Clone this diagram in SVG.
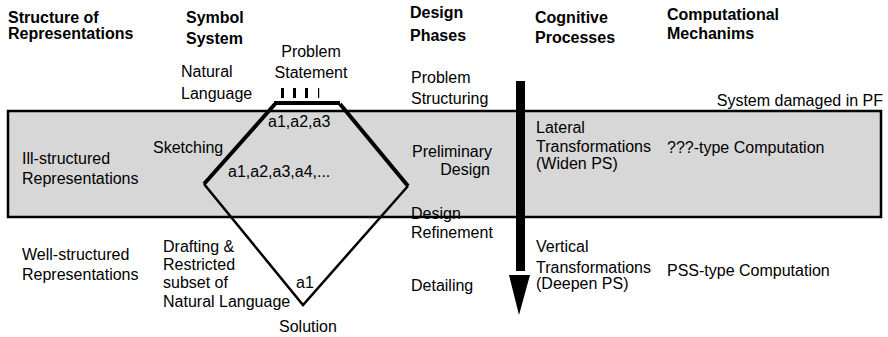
<svg xmlns="http://www.w3.org/2000/svg" width="888" height="337" viewBox="0 0 888 337">
<style>
text{font-family:"Liberation Sans",Arial,sans-serif;font-size:16px;fill:#000}
.h{font-weight:bold}
.thick{stroke:#000;stroke-width:4;fill:none;stroke-linecap:butt}
.thin{stroke:#000;stroke-width:2.5;fill:none}
</style>
<rect id="band" x="8" y="111" width="873" height="106" fill="#d7d7d7" stroke="#000" stroke-width="2.5"/>
<g id="headers">
<text class="h" x="8" y="23">Structure of</text>
<text class="h" x="8" y="39">Representations</text>
<text class="h" x="186" y="23">Symbol</text>
<text class="h" x="186" y="44">System</text>
<text class="h" x="410" y="18">Design</text>
<text class="h" x="410" y="41">Phases</text>
<text class="h" x="535" y="23">Cognitive</text>
<text class="h" x="535" y="43">Processes</text>
<text class="h" x="667" y="20">Computational</text>
<text class="h" x="667" y="39">Mechanims</text>
</g>
<g id="connectors">
<line class="thick" x1="274" y1="103" x2="340" y2="103" stroke-width="3"/>
<rect x="281" y="88" width="3" height="10"/>
<rect x="293" y="88" width="3" height="10"/>
<rect x="305" y="88" width="3" height="10"/>
<rect x="318" y="88" width="1.2" height="10"/>
<polyline class="thick" points="275,104 204,184"/>
<polyline class="thick" points="340,104 408,186"/>
<polyline class="thin" points="204,184 303,305 408,186"/>
<rect x="516" y="81" width="9" height="190"/>
<polygon points="509,275 530,275 519,315"/>
</g>
<g id="problem-statement"><text x="311" y="57" text-anchor="middle">Problem</text><text x="311" y="78" text-anchor="middle">Statement</text></g>
<g id="natural-language"><text x="181" y="77">Natural</text><text x="181" y="99">Language</text></g>
<g id="problem-structuring"><text x="411" y="83">Problem</text><text x="411" y="104">Structuring</text></g>
<g id="damaged"><text x="883" y="106" text-anchor="end">System damaged in PF</text></g>
<g id="ill-structured"><text x="22" y="164">Ill-structured</text><text x="22" y="184">Representations</text></g>
<g id="sketching"><text x="153" y="153">Sketching</text></g>
<g id="a123"><text x="268" y="127">a1,a2,a3</text></g>
<g id="a1234"><text x="228" y="177">a1,a2,a3,a4,...</text></g>
<g id="preliminary-design"><text x="412" y="157">Preliminary</text><text x="490" y="175" text-anchor="end">Design</text></g>
<g id="lateral"><text x="536" y="133">Lateral</text><text x="536" y="152">Transformations</text><text x="536" y="169">(Widen PS)</text></g>
<g id="qtype"><text x="667" y="153">???-type Computation</text></g>
<g id="design-refinement"><text x="411" y="219">Design</text><text x="411" y="238">Refinement</text></g>
<g id="detailing"><text x="411" y="291">Detailing</text></g>
<g id="vertical"><text x="536" y="252">Vertical</text><text x="536" y="273">Transformations</text><text x="536" y="289">(Deepen PS)</text></g>
<g id="pss"><text x="667" y="276">PSS-type Computation</text></g>
<g id="well-structured"><text x="22" y="260">Well-structured</text><text x="22" y="280">Representations</text></g>
<g id="drafting"><text x="163" y="252">Drafting &amp;</text><text x="163" y="270">Restricted</text><text x="163" y="288">subset of</text><text x="163" y="307">Natural Language</text></g>
<g id="a1"><text x="296" y="288">a1</text></g>
<g id="solution"><text x="279" y="332">Solution</text></g>
</svg>
